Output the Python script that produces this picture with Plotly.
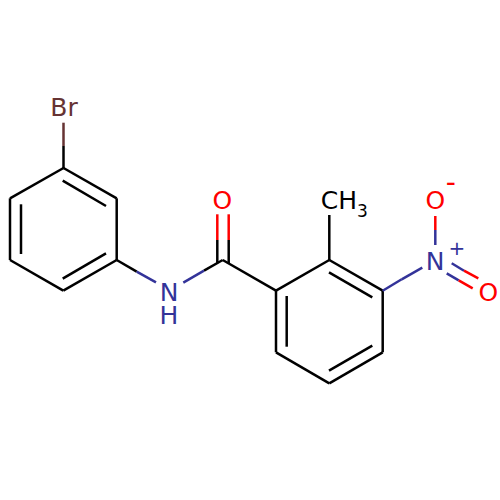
import plotly.graph_objects as go

# atom labels: text, x, y, colour, size
label_text = ["Br", "O", "N", "H", "CH", "3", "O", "-", "N", "+", "O"]
label_x = [64, 222.3, 169, 169, 339, 362.5, 435.3, 450.7, 435, 457, 488.3]
label_y = [109.5, 203, 294.5, 318, 203, 213, 203, 184.5, 263.5, 249.5, 294.5]
label_color = ["#663333", "#ff0000", "#333399", "#333399", "#000000", "#000000",
               "#ff0000", "#ff0000", "#333399", "#333399", "#ff0000"]
label_size = [25, 25, 25, 25, 25, 17, 25, 28, 25, 20, 25]

# bond segments, one list per colour: (x0, y0, x1, y1)
black_bonds = [
    # bromophenyl ring
    (63.5, 168, 116.7, 198.3), (116.7, 198.3, 116.7, 260), (116.7, 260, 63.3, 290.7),
    (63.3, 290.7, 10, 260), (10, 260, 10, 198.3), (10, 198.3, 63.5, 168),
    (62.7, 180.7, 106, 206), (62.7, 278.7, 106, 253.3), (21, 204.3, 21, 254),
    (63.5, 146, 63.5, 168),
    (116.7, 260, 136.7, 271.7),
    (204, 270.7, 222.7, 260),
    # carbonyl
    (217.3, 240, 217.3, 263), (228.7, 240, 228.7, 263),
    (222.7, 260, 276, 290.7),
    # nitrophenyl ring
    (276, 290.7, 329.3, 260), (329.3, 260, 382.7, 290.7), (382.7, 290.7, 382.7, 352.3),
    (382.7, 352.3, 329.3, 383.3), (329.3, 383.3, 276, 352.3), (276, 352.3, 276, 290.7),
    (329, 272.3, 372.3, 297.3), (286.7, 296, 286.7, 346.7), (329, 370.7, 372.3, 345.7),
    (329.3, 260, 329.3, 215),
]
brown_bonds = [(63.5, 122.7, 63.5, 146)]
blue_bonds = [
    (136.7, 271.7, 156, 282.3), (183.3, 282.7, 204, 270.7),
    (382.7, 290.7, 401.7, 279.3), (401.7, 279.3, 422.3, 267.7),
    (435.3, 245, 435.3, 230),
    (451.7, 263.3, 464, 270.7), (446.7, 273.3, 458.7, 280.3),
]
red_bonds = [
    (217.3, 214.3, 217.3, 240), (228.7, 214.3, 228.7, 240),
    (435.3, 230, 435.3, 216),
    (464, 270.7, 478.3, 278.3), (458.7, 280.3, 472.7, 288.3),
]


def bond_trace(bonds, color):
    xs = []
    ys = []
    for x0, y0, x1, y1 in bonds:
        xs += [x0, x1, None]
        ys += [y0, y1, None]
    return go.Scatter(x=xs, y=ys, mode="lines", line=dict(color=color, width=2.5), hoverinfo="skip")


fig = go.Figure()
fig.add_trace(bond_trace(black_bonds, "#000000"))
fig.add_trace(bond_trace(brown_bonds, "#663333"))
fig.add_trace(bond_trace(blue_bonds, "#333399"))
fig.add_trace(bond_trace(red_bonds, "#ff0000"))

fig.add_trace(go.Scatter(
    x=label_x, y=label_y, mode="text", text=label_text,
    textfont=dict(family="DejaVu Sans", size=label_size, color=label_color),
    textposition="middle center", hoverinfo="skip",
))

fig.update_layout(
    width=500, height=500,
    margin=dict(l=0, r=0, t=0, b=0),
    paper_bgcolor="white", plot_bgcolor="white",
    showlegend=False,
    xaxis=dict(range=[0, 500], visible=False),
    yaxis=dict(range=[500, 0], visible=False),
)

fig.write_html("out.html", config=dict(displayModeBar=False),
               post_script="document.body.style.margin='0';")
